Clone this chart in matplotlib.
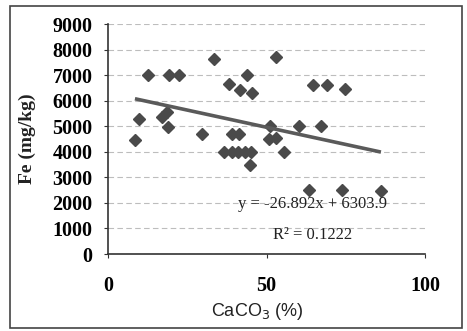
import matplotlib
matplotlib.use("Agg")
import matplotlib.pyplot as plt
from matplotlib.patches import Rectangle
import numpy as np

# CaCO3 content (%) and Fe concentration (mg/kg) of the soil samples
caco3 = [8.5, 9.8, 12.6, 16.9, 18.5, 18.9, 19.3, 22.3, 29.7, 33.4,
         36.6, 38.2, 39.1, 39.1, 41.0, 41.3, 41.6, 43.2, 43.8, 44.8,
         45.1, 45.4, 50.8, 51.1, 53.0, 53.0, 55.5, 60.3, 63.4, 64.7,
         67.2, 69.1, 73.8, 74.8, 86.1]
fe = [4450, 5300, 7000, 5350, 5550, 4950, 7000, 7000, 4700, 7650,
      4000, 6650, 4700, 4000, 4000, 4700, 6400, 4000, 7000, 3500,
      4000, 6300, 4500, 5000, 4550, 7700, 4000, 5000, 2500, 6600,
      5000, 6600, 2500, 6450, 2450]

# linear trendline
slope = -26.892
intercept = 6303.9
r_squared = 0.1222

x_ticks = [0, 50, 100]
y_ticks = [0, 1000, 2000, 3000, 4000, 5000, 6000, 7000, 8000, 9000]

W, H = 467, 331
fig = plt.figure(figsize=(W / 100, H / 100), dpi=100)
ax = fig.add_axes([108 / W, 1 - 254 / H, (425 - 108) / W, (254 - 24) / H])

serif_bold = dict(family="Liberation Serif", weight="bold")

ax.set_xlim(0, 100)
ax.set_ylim(0, 9000)
ax.set_xticks(x_ticks)
ax.set_yticks(y_ticks)
ax.set_xticklabels([str(t) for t in x_ticks], fontsize=14.5, **serif_bold)
ax.set_yticklabels([str(t) for t in y_ticks], fontsize=14.5, **serif_bold)
ax.tick_params(axis="y", length=3, width=0.8, color="#333333", pad=8)
ax.tick_params(axis="x", length=3, width=0.8, color="#333333", pad=12.5)

for side in ("top", "right"):
    ax.spines[side].set_visible(False)
for side in ("left", "bottom"):
    ax.spines[side].set_color("#333333")
    ax.spines[side].set_linewidth(1.2)

ax.yaxis.grid(True, color="#bdbdbd", linestyle=(0, (5, 3)), linewidth=0.8)
ax.set_axisbelow(True)

ax.plot(caco3, fe, linestyle="none", marker="D", markersize=6.5,
        color="#4a4a4a", markeredgecolor="#4a4a4a", zorder=3)

xs = np.array([min(caco3), max(caco3)])
ax.plot(xs, slope * xs + intercept, color="#5a5a5a", linewidth=2.6,
        solid_capstyle="butt", zorder=4)

ax.text(64.4, 1950, f"y = {slope}x + {intercept}", fontsize=12,
        family="Liberation Serif", ha="center", va="center", color="#222222")
ax.text(64.4, 750, f"R² = {r_squared}", fontsize=12,
        family="Liberation Serif", ha="center", va="center", color="#222222")

fig.text(27 / W, 1 - 139 / H, "Fe (mg/kg)", rotation=90, fontsize=14,
         ha="center", va="center", color="#222222", **serif_bold)
fig.text(257 / W, 1 - 311 / H, "CaCO$_3$ (%)", fontsize=13,
         family="Liberation Sans", ha="center", va="center", color="#222222")

fig.patches.append(Rectangle((10 / W, 1 - 328 / H), 452 / W, 322 / H,
                             transform=fig.transFigure, fill=False,
                             edgecolor="#444444", linewidth=1.2))

fig.savefig("out.png", dpi=100, facecolor="white")
